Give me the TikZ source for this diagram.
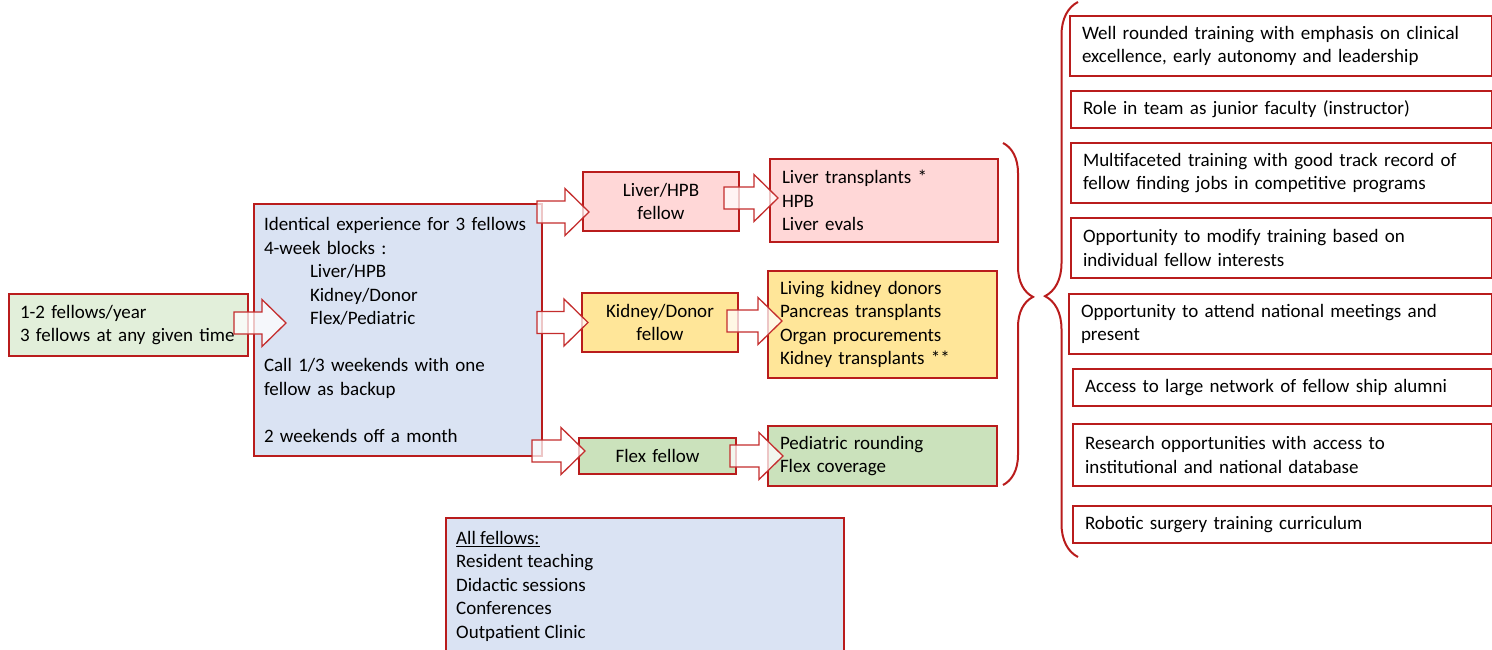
\documentclass[tikz,border=0pt]{standalone}
\usepackage{fontspec}
\setmainfont{Carlito}
\usepackage{tikz}
\usetikzlibrary{calc,decorations.pathreplacing}

\definecolor{boxred}{RGB}{185,28,28}
\definecolor{arrowred}{RGB}{196,45,45}
\definecolor{startgreen}{RGB}{226,239,218}
\definecolor{blockblue}{RGB}{218,227,243}
\definecolor{liverpink}{RGB}{255,215,215}
\definecolor{kidneyyellow}{RGB}{255,230,153}
\definecolor{flexgreen}{RGB}{203,226,188}

\tikzset{
  panel/.style={draw=boxred, line width=2pt, anchor=north west, inner xsep=12pt,
    inner ysep=0pt, align=left, font=\fontsize{19}{23.5}\selectfont,
    execute at begin node={\hyphenpenalty=10000\exhyphenpenalty=10000}},
  fat/.style={draw=arrowred, line width=1.3pt, fill=white, fill opacity=0.75},
  curly/.style={draw=boxred, line width=2pt, decorate},
}

% fat block arrow: tail point, tip point (tip uses tail's height)
\newcommand{\fatarrow}[2]{%
  \draw[fat] let \p1=#1, \p2=#2 in
    (\x1,\y1+11pt) -- (\x2-24pt,\y1+11pt) -- (\x2-24pt,\y1+23.5pt) -- (\x2,\y1)
    -- (\x2-24pt,\y1-23.5pt) -- (\x2-24pt,\y1-11pt) -- (\x1,\y1-11pt) -- cycle;}

\begin{document}
\begin{tikzpicture}[x=1pt, y=-1pt]
        \useasboundingbox (0,0) rectangle (1492,650);

        % left part
        \node[panel, fill=startgreen, text width=217pt, inner xsep=11pt, minimum height=62pt] (start) at (8,293)
          {1-2 fellows/year\\3 fellows at any given time};
        \node[panel, fill=blockblue, text width=268pt, inner xsep=10pt, minimum height=252pt] (blocks) at (253,203)
          {Identical experience for 3 fellows\\
           4-week blocks :\\
           \hspace*{46pt}Liver/HPB\\
           \hspace*{46pt}Kidney/Donor\\
           \hspace*{46pt}Flex/Pediatric\\[23.5pt]
           Call 1/3 weekends with one\\
           fellow as backup\\[23.5pt]
           2 weekends off a month};

        % fellows
        \node[panel, align=center, fill=liverpink, text width=132pt, minimum height=59pt] (liverf) at (582,171)
          {Liver/HPB\\fellow};
        \node[panel, align=center, fill=kidneyyellow, text width=132pt, minimum height=59pt] (kidneyf) at (581,292)
          {Kidney/Donor\\fellow};
        \node[panel, align=center, fill=flexgreen, text width=133pt, minimum height=36pt] (flexf) at (578,437)
          {Flex fellow};

        % what they do
        \node[panel, fill=liverpink, text width=204pt, minimum height=83pt] (liverl) at (769,158)
          {Liver transplants *\\HPB\\Liver evals};
        \node[panel, fill=kidneyyellow, text width=205pt, minimum height=107pt] (kidneyl) at (767,270)
          {Living kidney donors\\Pancreas transplants\\Organ procurements\\Kidney transplants **};
        \node[panel, fill=flexgreen, text width=205pt, minimum height=60pt] (flexl) at (767,425)
          {Pediatric rounding\\Flex coverage};

        % all fellows
        \node[panel, fill=blockblue, text width=374pt, minimum height=180pt] (allbox) at (445,517) {};
        \node[anchor=north west, align=left, inner sep=0pt, font=\fontsize{19}{23.5}\selectfont] (alltxt)
          at ($(allbox.north west)+(11,14)$)
          {\underline{All fellows:}\\Resident teaching\\Didactic sessions\\Conferences\\Outpatient Clinic};

        % strengths
        \node[panel, fill=white, text width=398pt, minimum height=60pt] (r1) at (1069,15)
          {Well rounded training with emphasis on clinical\\excellence, early autonomy and leadership};
        \node[panel, fill=white, text width=397pt, minimum height=37pt] (r2) at (1070,90)
          {Role in team as junior faculty (instructor)};
        \node[panel, fill=white, text width=397pt, minimum height=60pt] (r3) at (1070,142)
          {Multifaceted training with good track record of\\fellow finding jobs in competitive programs};
        \node[panel, fill=white, text width=397pt, minimum height=60pt] (r4) at (1070,217)
          {Opportunity to modify training based on\\individual fellow interests};
        \node[panel, fill=white, text width=399pt, minimum height=60pt] (r5) at (1068,293)
          {Opportunity to attend national meetings and\\present};
        \node[panel, fill=white, text width=395pt, minimum height=37pt] (r6) at (1072,368)
          {Access to large network of fellow ship alumni};
        \node[panel, fill=white, text width=395pt, minimum height=62pt] (r7) at (1072,423)
          {Research opportunities with access to\\institutional and national database};
        \node[panel, fill=white, text width=395pt, minimum height=37pt] (r8) at (1072,505)
          {Robotic surgery training curriculum};

        % block arrows
        \fatarrow{($(start.east)+(-15,-2)$)}{($(blocks.west)+(33,0)$)}
        \fatarrow{($(blocks.north east)+(-6,9)$)}{($(liverf.west)+(7,0)$)}
        \fatarrow{($(blocks.east |- kidneyf.west)+(-6,0)$)}{($(kidneyf.west)+(7,0)$)}
        \fatarrow{($(blocks.south east)+(-11,-6)$)}{($(flexf.west)+(7,0)$)}
        \fatarrow{($(liverf.east)+(-16,-3.5)$)}{($(liverl.west)+(9,0)$)}
        \fatarrow{($(kidneyf.east)+(-12,-1.5)$)}{($(kidneyl.west)+(15,0)$)}
        \fatarrow{($(flexf.east)+(-7,0)$)}{($(flexl.west)+(16,0)$)}

        % braces
        \coordinate (b1top) at (1003,143);
        \coordinate (b1bot) at (1003,485);
        \coordinate (b2top) at (1078,2);
        \coordinate (b2bot) at (1078,557);
        \draw[curly, decoration={brace, amplitude=30pt, aspect=0.45}] (b1top) -- (b1bot);
        \draw[curly, decoration={brace, amplitude=33pt, aspect=0.47}] (b2bot) -- (b2top);

      \end{tikzpicture}
\end{document}
